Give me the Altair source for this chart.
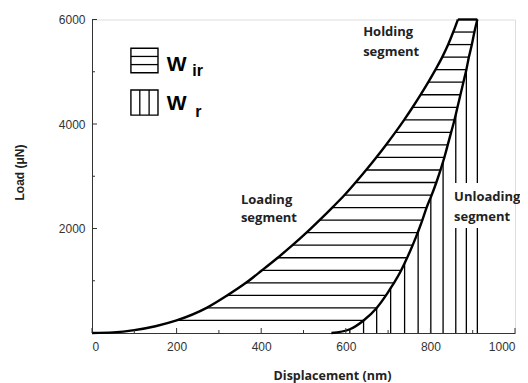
import altair as alt
import pandas as pd

# ---- data ----
# hatch loads (uN) of the horizontal lines (W_ir)
hatch_load = [240, 480, 720, 960, 1200, 1440, 1680, 1920, 2160, 2400, 2640, 2880,
              3120, 3360, 3600, 3840, 4080, 4320, 4560, 4800, 5040, 5280, 5520, 5760]
# displacement (nm) of loading curve at those loads
hatch_load_h = [200, 271, 320, 364, 402, 439, 474, 507, 538, 568, 597, 623,
                648, 672, 695, 717, 738, 758, 777, 795, 812, 828, 842, 854]
# displacement (nm) of unloading curve at those loads
hatch_unload_h = [642, 673, 695, 714, 731, 745, 758, 770, 781, 791, 803, 814,
                  824, 833, 841, 849, 857, 864, 871, 878, 885, 891, 898, 904]

# loading curve near the origin
load_start_h = [0, 50, 100, 150]
load_start_P = [0, 12, 55, 130]
peak_P = 6000
hold_h = [865, 911]          # holding segment start / end
unload_end_h = 566           # final depth after unloading

# vertical hatch lines (W_r): position and top on the unloading curve
vert_h = [609.5, 642, 673, 706, 739, 771, 801, 830, 860, 885, 911]
vert_top = [72, 240, 480, 859, 1337, 1942, 2600, 3280, 4183, 5040, 6000]

x_ticks_major = [0, 200, 400, 600, 800, 1000]
x_ticks_minor = [100, 300, 500, 700, 900]
y_ticks_major = [2000, 4000, 6000]
y_ticks_minor = [1000, 3000, 5000]

notes = ["Holding", "segment", "Loading", "segment", "Unloading", "segment"]
notes_h = [641, 641, 352, 352, 856, 856]
notes_P = [5761, 5378, 2554, 2201, 2609, 2226]

# legend (data units)
leg_box_x = [92, 156]
leg_box1_P = [4980, 5450]
leg_box2_P = [4170, 4650]
leg_h_lines_P = [5137, 5293]
leg_v_lines_h = [113, 135]

# ---- tables ----
W, H = 423, 313.5

load_df = pd.DataFrame({"h": load_start_h + hatch_load_h + [hold_h[0]],
                        "P": load_start_P + hatch_load + [peak_P], "seg": "load"})
hold_df = pd.DataFrame({"h": hold_h, "P": [peak_P, peak_P], "seg": "hold"})
pts = {unload_end_h: 0}
for hh, pp in zip(hatch_unload_h, hatch_load):
    pts[hh] = pp
for hh, pp in zip(vert_h, vert_top):
    pts[hh] = pp
pts[hold_h[1]] = peak_P
unload_df = pd.DataFrame({"h": list(pts.keys()), "P": list(pts.values())}).sort_values("h")
unload_df["seg"] = "unload"
curve_df = pd.concat([load_df, hold_df, unload_df], ignore_index=True)
curve_df["o"] = range(len(curve_df))

hh_df = pd.DataFrame({"P": hatch_load, "h1": hatch_load_h, "h2": hatch_unload_h})
vv_df = pd.DataFrame({"h": vert_h, "top": vert_top, "zero": 0})

xs = alt.Scale(domain=[0, 1000], nice=False, zero=False)
ys = alt.Scale(domain=[0, 6000], nice=False)

xaxis = alt.Axis(values=x_ticks_major, ticks=False, grid=False, format="d",
                 domainColor="#333", domainWidth=1,
                 labelFont="Liberation Sans", labelFontSize=12, labelColor="#333",
                 labelPadding=8,
                 title="Displacement (nm)", titleFont="Open Sans", titleFontSize=12.5,
                 titleFontWeight="bold", titleColor="#222",
                 titleX=240, titleY=42, titleBaseline="middle")
yaxis = alt.Axis(values=y_ticks_major, ticks=False, grid=False, format="d",
                 domainColor="#333", domainWidth=1,
                 labelFont="Liberation Sans", labelFontSize=12, labelColor="#333",
                 labelPadding=7,
                 title="Load (\u03bcN)", titleFont="Liberation Sans", titleFontSize=12,
                 titleFontWeight="bold", titleColor="#222",
                 titleX=-73, titleY=152.5, titleBaseline="middle")


def X(f):
    return alt.X(f, type="quantitative", scale=xs, axis=xaxis)


def Y(f):
    return alt.Y(f, type="quantitative", scale=ys, axis=yaxis)


hatch_h = alt.Chart(hh_df).mark_rule(color="black", strokeWidth=1.3).encode(
    x=X("h1"), x2="h2", y=Y("P"))
hatch_v = alt.Chart(vv_df).mark_rule(color="black", strokeWidth=1.3).encode(
    x=X("h"), y=Y("zero"), y2="top")

box_df = pd.DataFrame({"x1": [848], "x2": [1000], "y1": [2010], "y2": [2871]})
white_box = alt.Chart(box_df).mark_rect(color="white").encode(
    x=X("x1"), x2="x2", y=Y("y1"), y2="y2")

curves = alt.Chart(curve_df).mark_line(color="black", strokeWidth=2.4,
                                       interpolate="monotone").encode(
    x=X("h"), y=Y("P"), detail="seg:N", order="o:Q")

notes_df = pd.DataFrame({"t": notes, "h": notes_h, "P": notes_P})
note_text = alt.Chart(notes_df).mark_text(align="left", baseline="middle",
                                          font="Open Sans", fontWeight="bold",
                                          fontSize=13, color="#222").encode(
    x=X("h"), y=Y("P"), text="t:N")

# axis ticks (inward)
xt_major = alt.Chart(pd.DataFrame({"v": x_ticks_major})).mark_rule(color="#333").encode(
    x=X("v"), y=alt.value(H), y2=alt.value(H - 5))
xt_minor = alt.Chart(pd.DataFrame({"v": x_ticks_minor})).mark_rule(color="#333").encode(
    x=X("v"), y=alt.value(H), y2=alt.value(H - 3))
yt_major = alt.Chart(pd.DataFrame({"v": y_ticks_major})).mark_rule(color="#333").encode(
    y=Y("v"), x=alt.value(0), x2=alt.value(5))
yt_minor = alt.Chart(pd.DataFrame({"v": y_ticks_minor})).mark_rule(color="#333").encode(
    y=Y("v"), x=alt.value(0), x2=alt.value(3))

# legend
leg_rect_df = pd.DataFrame({"x1": [leg_box_x[0]] * 2, "x2": [leg_box_x[1]] * 2,
                            "y1": [leg_box1_P[0], leg_box2_P[0]],
                            "y2": [leg_box1_P[1], leg_box2_P[1]]})
leg_rects = alt.Chart(leg_rect_df).mark_rect(fill="white", stroke="black",
                                             strokeWidth=1.4).encode(
    x=X("x1"), x2="x2", y=Y("y1"), y2="y2")
leg_hl = alt.Chart(pd.DataFrame({"P": leg_h_lines_P, "x1": leg_box_x[0],
                                 "x2": leg_box_x[1]})).mark_rule(
    color="black", strokeWidth=1.3).encode(x=X("x1"), x2="x2", y=Y("P"))
leg_vl = alt.Chart(pd.DataFrame({"h": leg_v_lines_h, "y1": leg_box2_P[0],
                                 "y2": leg_box2_P[1]})).mark_rule(
    color="black", strokeWidth=1.3).encode(x=X("h"), y=Y("y1"), y2="y2")
leg_W = alt.Chart(pd.DataFrame({"t": ["W", "W"], "h": [177, 177],
                                "P": [5014, 4268]})).mark_text(
    align="left", baseline="alphabetic", font="Liberation Sans", fontWeight="bold",
    fontSize=21, color="black").encode(x=X("h"), y=Y("P"), text="t:N")
leg_sub = alt.Chart(pd.DataFrame({"t": ["ir", "r"], "h": [237, 244],
                                  "P": [4919, 4140]})).mark_text(
    align="left", baseline="alphabetic", font="Liberation Sans", fontWeight="bold",
    fontSize=16, color="black").encode(x=X("h"), y=Y("P"), text="t:N")

chart = alt.layer(
    hatch_h, hatch_v, white_box, curves, note_text,
    xt_major, xt_minor, yt_major, yt_minor,
    leg_rects, leg_hl, leg_vl, leg_W, leg_sub
).properties(
    width=W, height=H,
    autosize=alt.AutoSizeParams(type="none"),
    padding={"left": 84, "top": 11.5, "right": 5, "bottom": 50},
).configure_view(stroke=None).configure(background="white")

chart.save("out.html", embed_options={"renderer": "svg", "actions": False})
